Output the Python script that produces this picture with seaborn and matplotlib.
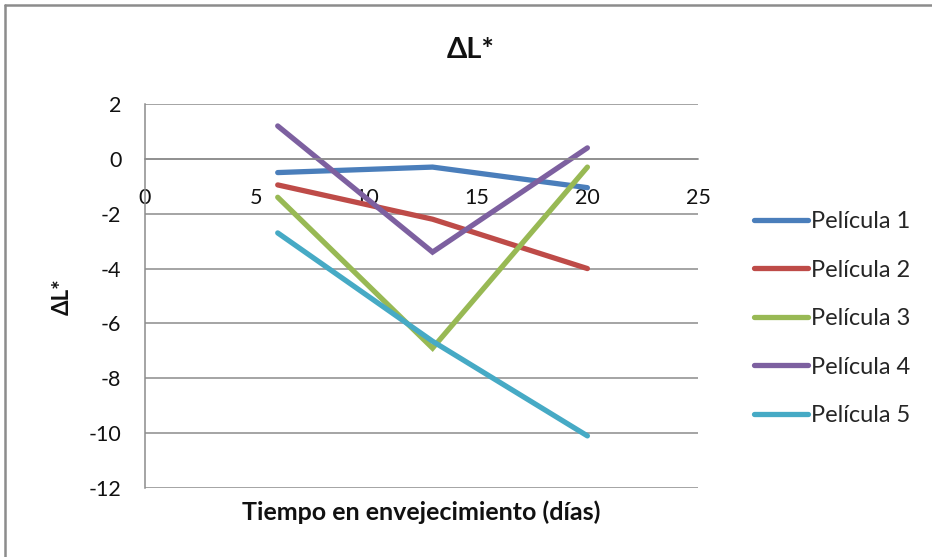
import matplotlib
matplotlib.use("Agg")
import matplotlib.pyplot as plt
from matplotlib.lines import Line2D
import seaborn as sns
import pandas as pd

# ---- data ----
dias = [6, 13, 20]
series_names = ["Película 1", "Película 2", "Película 3", "Película 4", "Película 5"]
pelicula_1 = [-0.5, -0.3, -1.05]
pelicula_2 = [-0.95, -2.2, -4.0]
pelicula_3 = [-1.4, -6.9, -0.3]
pelicula_4 = [1.2, -3.4, 0.4]
pelicula_5 = [-2.7, -6.65, -10.1]
x_ticks = [0, 5, 10, 15, 20, 25]
y_ticks = [2, 0, -2, -4, -6, -8, -10, -12]
colors = ["#4A7EBB", "#BE4B48", "#98B954", "#7D60A0", "#46AAC5"]

rows = []
for name, vals in zip(series_names, [pelicula_1, pelicula_2, pelicula_3, pelicula_4, pelicula_5]):
    for d, v in zip(dias, vals):
        rows.append({"dias": d, "dL": v, "serie": name})
df = pd.DataFrame(rows)

sns.set_style("white")
plt.rcParams["font.family"] = ["Lato", "DejaVu Sans"]

W, H = 932, 557
fig = plt.figure(figsize=(W / 100, H / 100), dpi=100)
ax = fig.add_axes([145 / W, 1 - 488 / H, (698 - 145) / W, (488 - 104) / H])

grid_c = "#8C8C8C"
for yt in y_ticks:
    ax.axhline(yt, color=grid_c, lw=1.1, zorder=0)

sns.lineplot(data=df, x="dias", y="dL", hue="serie", palette=colors,
             hue_order=series_names, linewidth=3.8, ax=ax, legend=True,
             estimator=None, sort=False)
for ln in ax.lines:
    ln.set_solid_capstyle("round")
    ln.set_solid_joinstyle("miter")

ax.set_xlim(0, 25)
ax.set_ylim(-12, 2)
ax.set_xticks(x_ticks)
ax.set_yticks(y_ticks)
ax.set_xticklabels([str(t) for t in x_ticks])
ax.set_yticklabels([str(t) for t in y_ticks])

for s in ["top", "right"]:
    ax.spines[s].set_visible(False)
ax.spines["bottom"].set_position(("data", 0))
ax.spines["bottom"].set_color(grid_c)
ax.spines["left"].set_color(grid_c)
ax.spines["bottom"].set_linewidth(1.1)
ax.spines["left"].set_linewidth(1.1)

ax.tick_params(axis="x", direction="out", length=5, width=1.1, color=grid_c,
               pad=16, labelsize=15.5, labelcolor="#111111")
ax.tick_params(axis="y", direction="out", length=7, width=1.1, color=grid_c,
               pad=10, labelsize=15.5, labelcolor="#111111")

ax.set_xlabel("")
ax.set_ylabel("")
fig.text(421 / W, 1 - 512 / H, "Tiempo en envejecimiento (días)", ha="center", va="center",
         fontsize=18, fontweight="bold", color="#111111")
fig.text(62 / W, 1 - 297 / H, "ΔL*", ha="center", va="center", rotation=90,
         fontsize=16, fontweight="bold", color="#111111")
fig.text(471 / W, 1 - 50 / H, "ΔL*", ha="center", va="center",
         fontsize=21, fontweight="bold", color="#111111")

handles, labels = ax.get_legend_handles_labels()
for h in handles:
    h.set_linewidth(3.8)
    h.set_solid_capstyle("round")
ax.legend(handles, labels, loc="upper left", bbox_to_anchor=(754 / W, 1 - 211 / H),
          bbox_transform=fig.transFigure, frameon=False, fontsize=17,
          handlelength=2.3, handletextpad=0.1, labelspacing=1.165, borderaxespad=0,
          borderpad=0)

# chart border (Excel-style)
fig.add_artist(Line2D([5 / W, 1], [1 - 5 / H, 1 - 5 / H], transform=fig.transFigure,
                      color="#8C8C8C", lw=1.8))
fig.add_artist(Line2D([5 / W, 5 / W], [0, 1 - 5 / H], transform=fig.transFigure,
                      color="#8C8C8C", lw=1.8))

fig.savefig("out.png", dpi=100)
